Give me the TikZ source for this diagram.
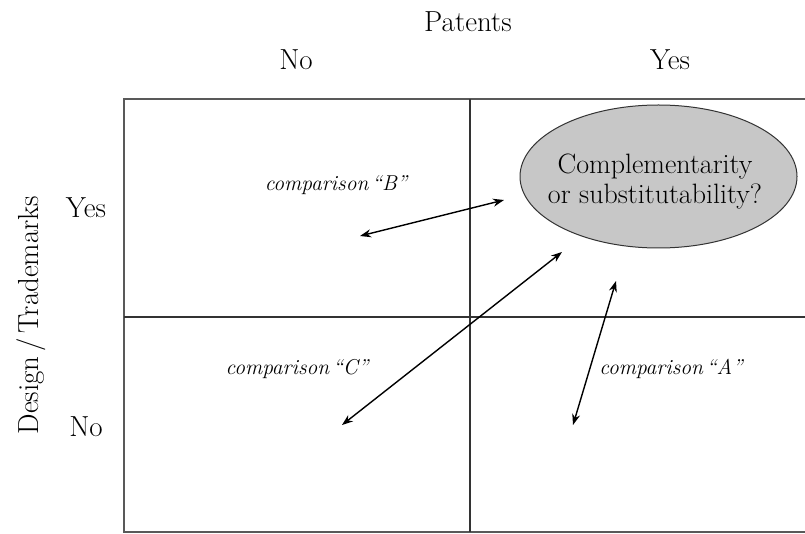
\documentclass[tikz,border=0pt]{standalone}
\usetikzlibrary{arrows.meta,shapes.geometric}
\begin{document}
\begin{tikzpicture}[x=1pt,y=-1pt,
  lbl/.style={font=\fontsize{29}{33}\selectfont, inner sep=0pt},
  cmp/.style={font=\fontsize{21.5}{25}\selectfont\itshape, inner sep=0pt},
  grid/.style={line width=1.3pt, black!80},
  outer/.style={line width=2pt, black!65},
  dbl/.style={line width=1.4pt, {Stealth[length=11pt,width=8pt]}-{Stealth[length=11pt,width=8pt]}},
  bubble/.style={ellipse, draw=black!80, line width=1pt, fill=black!22, minimum width=277pt, minimum height=143pt, inner sep=0pt},
  bubtext/.style={align=center, font=\fontsize{28}{30}\selectfont, inner sep=0pt}]
\useasboundingbox (0,0) rectangle (805,534);
\clip (0,0) rectangle (805,534);
% grid
\draw[outer] (124,99) rectangle (830,532);
\coordinate (vt) at (470,99);
\coordinate (vb) at (470,532);
\coordinate (hl) at (124,317);
\coordinate (hr) at (830,317);
\draw[grid] (vt) -- (vb);
\draw[grid] (hl) -- (hr);
% headings
\node[lbl] (patents) at (468,22) {Patents};
\node[lbl] (pno) at (296,60) {No};
\node[lbl] (pyes) at (670,60) {Yes};
\node[lbl] (dyes) at (86,208) {Yes};
\node[lbl] (dno) at (86,427) {No};
\node[lbl, rotate=90] (dt) at (31,315) {Design\,/\,Trademarks};
% bubble
\node[bubble] (bub) at (658.5,176.5) {};
\node[bubtext] (bubt) at (655,182) {Complementarity\\or substitutability?};
% comparison labels
\node[cmp] (lb) at (336,185) {comparison\,``B''};
\node[cmp] (lc) at (297,369) {comparison\,``C''};
\node[cmp] (la) at (671,369) {comparison\,``A''};
% arrows
\coordinate (b1) at (360,236);
\coordinate (b2) at (504,200);
\coordinate (c1) at (342,425);
\coordinate (c2) at (562,252);
\coordinate (a1) at (573,425);
\coordinate (a2) at (616,281);
\draw[dbl] (b1) -- (b2);
\draw[dbl] (c1) -- (c2);
\draw[dbl] (a1) -- (a2);
\end{tikzpicture}
\end{document}
